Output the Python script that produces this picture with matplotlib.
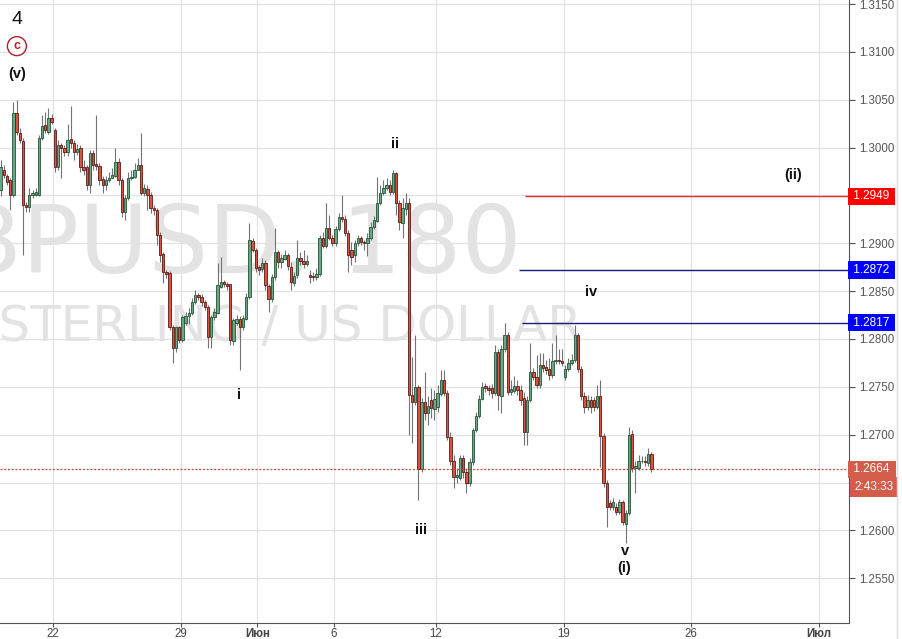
import matplotlib
matplotlib.use("Agg")
import matplotlib.pyplot as plt
import matplotlib.transforms as mtransforms
from matplotlib.lines import Line2D
import numpy as np

# GBPUSD, 180 min candles (17 May - 22 Jun 2017)
opens = [
    1.2956, 1.2977, 1.2970, 1.2966, 1.2950, 1.3036, 1.3015, 1.3007, 1.2940, 1.2938,
    1.2950, 1.2950, 1.2950, 1.3010, 1.3024, 1.3016, 1.3031, 1.3018, 1.2980, 1.3003,
    1.3000, 1.2995, 1.3009, 1.3005, 1.2995, 1.3000, 1.2980, 1.2980, 1.2961, 1.2994,
    1.2983, 1.2981, 1.2967, 1.2961, 1.2966, 1.2968, 1.2970, 1.2985, 1.2966, 1.2933,
    1.2947, 1.2968, 1.2969, 1.2977, 1.2982, 1.2953, 1.2957, 1.2950, 1.2937, 1.2935,
    1.2909, 1.2889, 1.2870, 1.2869, 1.2813, 1.2791, 1.2812, 1.2799, 1.2817, 1.2824,
    1.2827, 1.2839, 1.2846, 1.2844, 1.2839, 1.2833, 1.2802, 1.2823, 1.2827, 1.2854,
    1.2860, 1.2857, 1.2857, 1.2798, 1.2817, 1.2821, 1.2812, 1.2821, 1.2844, 1.2902,
    1.2893, 1.2875, 1.2873, 1.2879, 1.2855, 1.2842, 1.2865, 1.2891, 1.2880, 1.2884,
    1.2888, 1.2875, 1.2858, 1.2867, 1.2885, 1.2881, 1.2878, 1.2867, 1.2866, 1.2865,
    1.2868, 1.2906, 1.2897, 1.2916, 1.2905, 1.2900, 1.2915, 1.2927, 1.2925, 1.2911,
    1.2893, 1.2888, 1.2900, 1.2905, 1.2901, 1.2900, 1.2905, 1.2917, 1.2923, 1.2942,
    1.2953, 1.2958, 1.2961, 1.2954, 1.2973, 1.2942, 1.2921, 1.2936, 1.2942, 1.2741,
    1.2734, 1.2750, 1.2664, 1.2734, 1.2723, 1.2736, 1.2727, 1.2729, 1.2742, 1.2757,
    1.2744, 1.2698, 1.2673, 1.2656, 1.2655, 1.2676, 1.2661, 1.2649, 1.2671, 1.2705,
    1.2719, 1.2737, 1.2751, 1.2749, 1.2749, 1.2744, 1.2786, 1.2740, 1.2789, 1.2804,
    1.2745, 1.2746, 1.2751, 1.2747, 1.2738, 1.2703, 1.2736, 1.2766, 1.2760, 1.2752,
    1.2773, 1.2771, 1.2769, 1.2762, 1.2777, 1.2778, 1.2777, 1.2760, 1.2769, 1.2775,
    1.2778, 1.2804, 1.2769, 1.2740, 1.2729, 1.2736, 1.2736, 1.2729, 1.2740, 1.2699,
    1.2649, 1.2629, 1.2624, 1.2624, 1.2619, 1.2630, 1.2607, 1.2618, 1.2701, 1.2665,
    1.2665, 1.2672, 1.2673, 1.2670, 1.2680,
]
highs = [
    1.2987, 1.2982, 1.2972, 1.2968, 1.3048, 1.3050, 1.3020, 1.3010, 1.2943, 1.2958,
    1.2956, 1.2958, 1.3013, 1.3034, 1.3037, 1.3041, 1.3035, 1.3020, 1.3008, 1.3005,
    1.3003, 1.3025, 1.3043, 1.3008, 1.3004, 1.3003, 1.2987, 1.2982, 1.2997, 1.2997,
    1.3034, 1.2984, 1.2970, 1.2970, 1.2974, 1.2979, 1.3000, 1.2989, 1.2968, 1.2950,
    1.2974, 1.2977, 1.2984, 1.2989, 1.3015, 1.2962, 1.2961, 1.2954, 1.2940, 1.2937,
    1.2912, 1.2891, 1.2872, 1.2871, 1.2815, 1.2814, 1.2814, 1.2825, 1.2828, 1.2832,
    1.2843, 1.2851, 1.2848, 1.2847, 1.2841, 1.2835, 1.2825, 1.2832, 1.2879, 1.2886,
    1.2862, 1.2860, 1.2857, 1.2822, 1.2825, 1.2824, 1.2825, 1.2848, 1.2921, 1.2905,
    1.2895, 1.2877, 1.2885, 1.2882, 1.2857, 1.2868, 1.2916, 1.2893, 1.2889, 1.2893,
    1.2890, 1.2880, 1.2870, 1.2903, 1.2891, 1.2893, 1.2888, 1.2872, 1.2870, 1.2874,
    1.2909, 1.2912, 1.2942, 1.2930, 1.2909, 1.2918, 1.2932, 1.2950, 1.2930, 1.2914,
    1.2901, 1.2903, 1.2909, 1.2908, 1.2903, 1.2911, 1.2922, 1.2928, 1.2969, 1.2961,
    1.2966, 1.2968, 1.2966, 1.2977, 1.2974, 1.2945, 1.2947, 1.2953, 1.2947, 1.2781,
    1.2804, 1.2752, 1.2738, 1.2766, 1.2740, 1.2749, 1.2747, 1.2752, 1.2768, 1.2768,
    1.2747, 1.2703, 1.2679, 1.2665, 1.2679, 1.2679, 1.2665, 1.2676, 1.2707, 1.2724,
    1.2741, 1.2755, 1.2754, 1.2752, 1.2753, 1.2794, 1.2790, 1.2794, 1.2817, 1.2807,
    1.2757, 1.2761, 1.2757, 1.2752, 1.2745, 1.2740, 1.2796, 1.2770, 1.2783, 1.2785,
    1.2785, 1.2778, 1.2780, 1.2796, 1.2804, 1.2790, 1.2790, 1.2773, 1.2780, 1.2784,
    1.2815, 1.2806, 1.2772, 1.2745, 1.2741, 1.2740, 1.2739, 1.2752, 1.2757, 1.2702,
    1.2653, 1.2632, 1.2634, 1.2629, 1.2633, 1.2632, 1.2621, 1.2708, 1.2705, 1.2673,
    1.2679, 1.2678, 1.2678, 1.2686, 1.2682,
]
lows = [
    1.2949, 1.2968, 1.2961, 1.2935, 1.2948, 1.3013, 1.3005, 1.2888, 1.2933, 1.2933,
    1.2947, 1.2949, 1.2949, 1.3008, 1.3015, 1.3014, 1.3025, 1.2974, 1.2977, 1.2968,
    1.2991, 1.2991, 1.3000, 1.2987, 1.2992, 1.2974, 1.2971, 1.2956, 1.2953, 1.2977,
    1.2977, 1.2961, 1.2953, 1.2956, 1.2964, 1.2968, 1.2969, 1.2961, 1.2927, 1.2924,
    1.2945, 1.2966, 1.2968, 1.2977, 1.2950, 1.2949, 1.2935, 1.2932, 1.2930, 1.2898,
    1.2880, 1.2858, 1.2864, 1.2809, 1.2775, 1.2786, 1.2796, 1.2797, 1.2815, 1.2816,
    1.2825, 1.2837, 1.2841, 1.2834, 1.2830, 1.2791, 1.2791, 1.2820, 1.2826, 1.2853,
    1.2854, 1.2851, 1.2794, 1.2794, 1.2815, 1.2768, 1.2809, 1.2820, 1.2842, 1.2891,
    1.2870, 1.2867, 1.2870, 1.2851, 1.2828, 1.2839, 1.2862, 1.2874, 1.2874, 1.2882,
    1.2872, 1.2851, 1.2855, 1.2864, 1.2877, 1.2874, 1.2876, 1.2858, 1.2861, 1.2862,
    1.2866, 1.2895, 1.2895, 1.2903, 1.2897, 1.2897, 1.2913, 1.2922, 1.2908, 1.2870,
    1.2877, 1.2880, 1.2897, 1.2898, 1.2893, 1.2887, 1.2903, 1.2915, 1.2922, 1.2940,
    1.2950, 1.2956, 1.2950, 1.2952, 1.2930, 1.2914, 1.2906, 1.2930, 1.2700, 1.2691,
    1.2731, 1.2632, 1.2661, 1.2715, 1.2710, 1.2717, 1.2715, 1.2724, 1.2740, 1.2740,
    1.2694, 1.2668, 1.2644, 1.2650, 1.2653, 1.2655, 1.2639, 1.2646, 1.2668, 1.2703,
    1.2717, 1.2736, 1.2745, 1.2741, 1.2738, 1.2741, 1.2726, 1.2723, 1.2786, 1.2741,
    1.2741, 1.2744, 1.2741, 1.2731, 1.2689, 1.2689, 1.2734, 1.2757, 1.2749, 1.2749,
    1.2766, 1.2763, 1.2757, 1.2759, 1.2774, 1.2774, 1.2772, 1.2757, 1.2767, 1.2773,
    1.2776, 1.2766, 1.2736, 1.2723, 1.2726, 1.2723, 1.2725, 1.2727, 1.2666, 1.2645,
    1.2603, 1.2621, 1.2621, 1.2616, 1.2617, 1.2606, 1.2587, 1.2616, 1.2661, 1.2639,
    1.2663, 1.2670, 1.2667, 1.2667, 1.2661,
]
closes = [
    1.2980, 1.2971, 1.2964, 1.2950, 1.3036, 1.3016, 1.3008, 1.2940, 1.2938, 1.2950,
    1.2953, 1.2954, 1.3010, 1.3023, 1.3018, 1.3031, 1.3027, 1.2980, 1.3003, 1.3000,
    1.2995, 1.3008, 1.3005, 1.2995, 1.2999, 1.2980, 1.2977, 1.2961, 1.2994, 1.2982,
    1.2981, 1.2966, 1.2961, 1.2966, 1.2968, 1.2971, 1.2985, 1.2966, 1.2933, 1.2947,
    1.2968, 1.2969, 1.2977, 1.2982, 1.2953, 1.2958, 1.2950, 1.2937, 1.2935, 1.2909,
    1.2888, 1.2870, 1.2868, 1.2813, 1.2791, 1.2812, 1.2799, 1.2823, 1.2824, 1.2827,
    1.2839, 1.2846, 1.2844, 1.2839, 1.2833, 1.2802, 1.2823, 1.2828, 1.2856, 1.2860,
    1.2857, 1.2855, 1.2799, 1.2820, 1.2821, 1.2813, 1.2822, 1.2844, 1.2903, 1.2893,
    1.2874, 1.2872, 1.2879, 1.2856, 1.2842, 1.2865, 1.2891, 1.2880, 1.2885, 1.2888,
    1.2876, 1.2860, 1.2866, 1.2885, 1.2881, 1.2878, 1.2881, 1.2865, 1.2865, 1.2868,
    1.2906, 1.2897, 1.2916, 1.2906, 1.2900, 1.2915, 1.2927, 1.2925, 1.2911, 1.2888,
    1.2886, 1.2900, 1.2906, 1.2901, 1.2900, 1.2906, 1.2917, 1.2924, 1.2942, 1.2953,
    1.2958, 1.2961, 1.2954, 1.2973, 1.2942, 1.2922, 1.2937, 1.2942, 1.2741, 1.2734,
    1.2750, 1.2664, 1.2734, 1.2723, 1.2730, 1.2728, 1.2737, 1.2744, 1.2757, 1.2744,
    1.2698, 1.2673, 1.2656, 1.2658, 1.2676, 1.2661, 1.2649, 1.2671, 1.2705, 1.2719,
    1.2737, 1.2750, 1.2749, 1.2747, 1.2744, 1.2786, 1.2741, 1.2789, 1.2804, 1.2745,
    1.2748, 1.2751, 1.2747, 1.2736, 1.2703, 1.2736, 1.2766, 1.2760, 1.2752, 1.2773,
    1.2770, 1.2768, 1.2762, 1.2777, 1.2778, 1.2777, 1.2775, 1.2769, 1.2775, 1.2778,
    1.2804, 1.2769, 1.2740, 1.2729, 1.2736, 1.2729, 1.2729, 1.2740, 1.2699, 1.2649,
    1.2624, 1.2624, 1.2630, 1.2619, 1.2630, 1.2609, 1.2618, 1.2700, 1.2665, 1.2667,
    1.2673, 1.2673, 1.2671, 1.2680, 1.2664,
]

grid_levels = [1.2550, 1.2600, 1.2650, 1.2700, 1.2750, 1.2800, 1.2850, 1.2900,
               1.2950, 1.3000, 1.3050, 1.3100, 1.3150]
price_ticks = [1.2550, 1.2600, 1.2700, 1.2750, 1.2800, 1.2850, 1.2900,
               1.3000, 1.3050, 1.3100, 1.3150]

date_ticks = ["2017-05-22", "2017-05-29", "2017-06-01", "2017-06-06",
              "2017-06-12", "2017-06-19", "2017-06-26", "2017-07-03"]
date_labels = ["22", "29", "Июн", "6", "12", "19", "26", "Июл"]

levels = [1.2949, 1.2872, 1.2817]
level_start = [164.4, 162.5, 163.4]
level_colors = ["#ff0000", "#0000ff", "#0000ff"]
line_colors = ["#e8262a", "#1a1a80", "#1a1a80"]
last_price = 1.2664
countdown = "2:43:33"

wave_labels = ["ii", "i", "iii", "iv", "v", "(i)", "(ii)", "(v)"]
wave_x = [123.6, 74.7, 131.8, 185.1, 195.7, 195.4, 248.4, 5.1]
wave_y = [1.3004, 1.2741, 1.2600, 1.2849, 1.2578, 1.2561, 1.2971, 1.3077]

plt.rcParams["font.family"] = ["Liberation Sans", "DejaVu Sans"]

fig = plt.figure(figsize=(9.02, 6.39), dpi=100)
ax = fig.add_axes([0, 16 / 639, 849 / 902, 623 / 639])

ax.set_xlim(-0.19, 265.96)
ax.set_ylim(1.25032, 1.31542)

# grid
for g in grid_levels:
    ax.axhline(g, color="#e2e2e2", lw=0.9, zorder=0)
day0 = np.datetime64("2017-05-18")
xt = [8 * np.busday_count(day0, np.datetime64(d)) + 0.5 for d in date_ticks]
for v in xt:
    ax.axvline(v, color="#e2e2e2", lw=0.9, zorder=0)

# watermark
ax.text(522 / 849, (623 - 273) / 623, "GBPUSD, 180", transform=ax.transAxes,
        ha="right", va="baseline", fontsize=68, color="#e3e3e3",
        family="DejaVu Sans", zorder=0.5, clip_on=True)
ax.text(582 / 849, (623 - 341) / 623, "BRITISH POUND STERLING / US DOLLAR",
        transform=ax.transAxes, ha="right", va="baseline", fontsize=36,
        color="#e3e3e3", family="DejaVu Sans", zorder=0.5, clip_on=True)

# candles
o = np.array(opens)
h = np.array(highs)
l = np.array(lows)
c = np.array(closes)
x = np.arange(len(c))
up = c >= o
ax.vlines(x, l, h, color="#737375", lw=0.8, zorder=2)
lo = np.minimum(o, c)
hh = np.maximum(np.abs(c - o), 0.00004)
ax.bar(x[up], hh[up], bottom=lo[up], width=0.74, color="#6ba583",
       edgecolor="#225437", linewidth=0.6, zorder=3)
ax.bar(x[~up], hh[~up], bottom=lo[~up], width=0.74, color="#d75442",
       edgecolor="#5b1a13", linewidth=0.6, zorder=3)

# levels
for lv, st, lc in zip(levels, level_start, line_colors):
    ax.hlines(lv, st, 265.96, color=lc, lw=1.0, zorder=4)
ax.axhline(last_price, color="#c8452f", lw=0.9, ls=(0, (1.5, 1.5)), zorder=4)

# wave labels
for t, wx, wy in zip(wave_labels, wave_x, wave_y):
    ax.text(wx, wy, t, ha="center", va="center", fontsize=10.5,
            fontweight="bold", color="#111111", zorder=5)
ax.text(5.1, 1.3134, "4", ha="center", va="center", fontsize=14,
        color="#111111", zorder=5)
ax.text(5.1, 1.3106, "c", ha="center", va="center", fontsize=9,
        fontweight="bold", color="#b0202e", zorder=5,
        bbox=dict(boxstyle="circle,pad=0.28", fc="white", ec="#b0202e", lw=1))

# axes look
for s in ["top", "left"]:
    ax.spines[s].set_visible(False)
ax.spines["right"].set_color("#555555")
ax.spines["bottom"].set_color("#555555")
ax.yaxis.tick_right()
ax.set_yticks(price_ticks)
ax.set_yticklabels([f"{p:.4f}" for p in price_ticks])
ax.tick_params(axis="y", length=4, width=0.8, color="#555555", pad=3,
               labelsize=8.3, labelcolor="#555555")
ax.set_xticks(xt)
ax.set_xticklabels(date_labels)
ax.tick_params(axis="x", length=3, width=0.8, color="#555555", pad=0.8,
               labelsize=8.3, labelcolor="#444444")
for lab in ax.get_xticklabels():
    lab.set_family(["Liberation Sans Narrow", "Liberation Sans", "DejaVu Sans"])
    if lab.get_text() in ("Июн", "Июл"):
        lab.set_fontweight("bold")

# price boxes on the scale
trans = mtransforms.blended_transform_factory(ax.transAxes, ax.transData)
for lv, bc in zip(levels, level_colors):
    ax.text(1.0015, lv, f" {lv:.4f} ", transform=trans, ha="left", va="center",
            fontsize=8.5, color="white", zorder=6, clip_on=False,
            bbox=dict(boxstyle="square,pad=0.22", fc=bc, ec="none"))
ax.text(1.0015, last_price, f" {last_price:.4f} ", transform=trans, ha="left",
        va="center", fontsize=8.5, color="white", zorder=6, clip_on=False,
        bbox=dict(boxstyle="square,pad=0.22", fc="#d35c4a", ec="none"))
ax.text(1.0060, last_price - 0.00185, countdown, transform=trans,
        ha="left", va="center", fontsize=8.5, color="white", zorder=6,
        clip_on=False, bbox=dict(boxstyle="square,pad=0.32", fc="#d35c4a", ec="none"))

fig.add_artist(Line2D([897 / 902, 897 / 902], [0, 1], color="#dddddd", lw=1))

fig.savefig("out.png", dpi=100)
